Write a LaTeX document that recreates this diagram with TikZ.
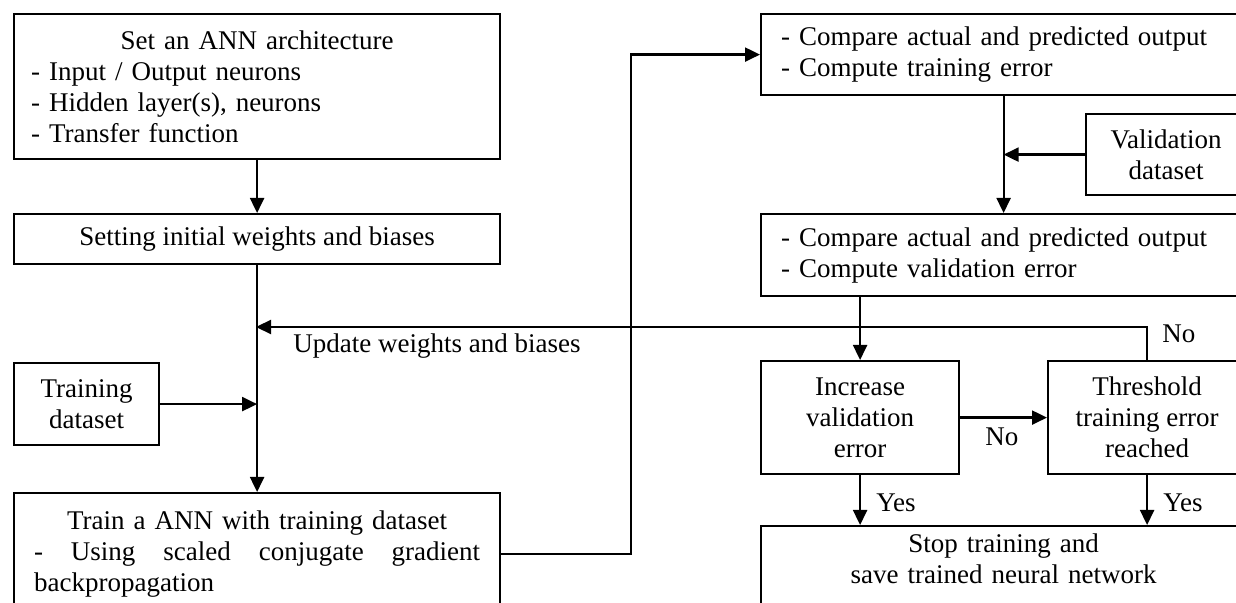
\documentclass[tikz,border=0pt]{standalone}
\usepackage{fontspec}
\setmainfont{Liberation Serif}
\usetikzlibrary{arrows.meta,calc}

\tikzset{
  box/.style={draw, line width=1.1pt, anchor=north west, inner sep=0pt,
    font=\fontsize{13.5}{15.5}\selectfont},
  flow/.style={->, line width=1.1pt},
  tag/.style={inner sep=0pt, anchor=base west, font=\fontsize{13.5}{15.5}\selectfont}
}

\begin{document}
\begin{tikzpicture}[x=0.5pt, y=-0.5pt, >={Triangle[length=7.5pt,width=7pt]}]
    \useasboundingbox (0,0) rectangle (1236,603);
    \clip (0,0) rectangle (1236,603);

    % left column
    \node[box, minimum width=243pt, minimum height=72.5pt, text width=226pt, align=left]
        (arch) at (13,13) {\centering Set an ANN architecture\par\raggedright
        - Input / Output neurons\\ - Hidden layer(s), neurons\\ - Transfer function};
    \node[box, minimum width=243pt, minimum height=25pt] (init) at (13,213)
        {Setting initial weights and biases};
    \node[box, minimum width=72.5pt, minimum height=41pt, align=center] (trainset) at (13,362)
        {Training\\dataset};
    \node[box, minimum width=243pt, text width=223pt, inner ysep=8.7pt, align=left]
        (train) at (13,492) {\centering Train a ANN with training dataset\par\raggedright
        -\hfill Using\hfill scaled\hfill conjugate\hfill gradient\\ backpropagation};

    % right column
    \node[box, minimum width=242.5pt, minimum height=40.5pt, text width=222.5pt, align=left]
        (cmptrain) at (760,13) {- Compare actual and predicted output\\ - Compute training error};
    \node[box, minimum width=80pt, minimum height=40.5pt, align=center] (valset) at (1085,113)
        {Validation\\dataset};
    \node[box, minimum width=242.5pt, minimum height=41pt, text width=222.5pt, align=left]
        (cmpval) at (760,213) {- Compare actual and predicted output\\ - Compute validation error};
    \node[box, minimum width=99pt, minimum height=56.5pt, align=center] (incr) at (760,360)
        {Increase\\validation\\error};
    \node[box, minimum width=99pt, minimum height=56.5pt, align=center] (thresh) at (1047,360)
        {Threshold\\training error\\reached};
    \node[box, minimum width=242.5pt, text width=222.5pt, inner ysep=4pt, text depth=32pt, align=center]
        (stop) at (760,525) {Stop training and\\save trained neural network};

    \coordinate (upd) at (256,327);

    \draw[flow] (arch.south) -- (init.north);
    \draw[flow] (init.south) -- (train.north);
    \draw[flow] (thresh.north) |- (upd);
    \draw[flow] (trainset.east) -- (trainset.east -| init.south);
    \draw[flow] (train.east) -| ($(train.east)!.5!(cmptrain.west)$) |- (cmptrain.west);
    \draw[flow] (cmptrain.south) -- (cmpval.north);
    \draw[flow] (valset.west) -- (valset.west -| cmptrain.south);
    \draw[flow] (cmpval.south -| incr.north) -- (incr.north);
    \draw[flow] (incr.east) -- (thresh.west);
    \draw[flow] (incr.south) -- (incr.south |- stop.north);
    \draw[flow] (thresh.south) -- (thresh.south |- stop.north);

    \node[tag] (updtxt) at (293,353) {Update weights and biases};
    \node[tag] (noup) at (1162,343) {No};
    \node[tag] (nomid) at (985,446) {No};
    \node[tag] (yesl) at (876,511) {Yes};
    \node[tag] (yesr) at (1163,511) {Yes};
\end{tikzpicture}
\end{document}
